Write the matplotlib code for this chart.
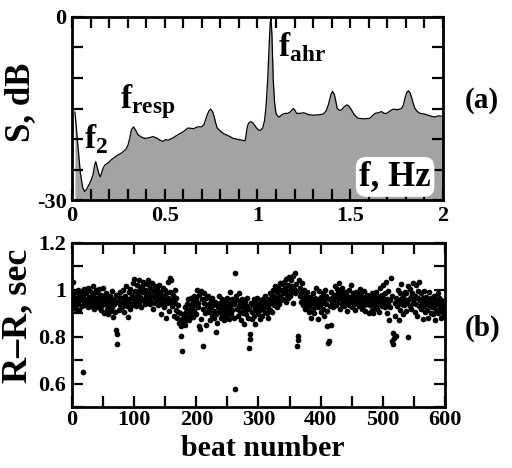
import matplotlib
matplotlib.use("Agg")
import matplotlib.pyplot as plt
import numpy as np

# ---- panel (a): power spectrum, dB ----
freq = [0.016, 0.03, 0.045, 0.058, 0.068, 0.078, 0.086, 0.1, 0.113, 0.122,
        0.128, 0.135, 0.145, 0.153, 0.165, 0.176, 0.195, 0.212, 0.23, 0.248,
        0.262, 0.275, 0.29, 0.302, 0.312, 0.32, 0.332, 0.344, 0.356, 0.375,
        0.392, 0.415, 0.437, 0.46, 0.475, 0.49, 0.505, 0.518, 0.545, 0.571,
        0.6, 0.625, 0.655, 0.679, 0.699, 0.712, 0.726, 0.738, 0.748, 0.758,
        0.766, 0.775, 0.783, 0.8, 0.816, 0.845, 0.87, 0.9, 0.933, 0.939,
        0.945, 0.952, 0.96, 0.968, 0.977, 0.99, 1.004, 1.016, 1.028, 1.038,
        1.046, 1.055, 1.063, 1.069, 1.073, 1.078, 1.085, 1.092, 1.1, 1.108,
        1.118, 1.132, 1.148, 1.162, 1.175, 1.185, 1.193, 1.2, 1.211, 1.23,
        1.247, 1.26, 1.274, 1.3, 1.337, 1.355, 1.37, 1.382, 1.395, 1.404,
        1.413, 1.421, 1.43, 1.442, 1.454, 1.468, 1.481, 1.492, 1.502, 1.51,
        1.517, 1.53, 1.543, 1.575, 1.606, 1.62, 1.633, 1.65, 1.669, 1.683,
        1.696, 1.715, 1.732, 1.755, 1.777, 1.787, 1.795, 1.805, 1.813, 1.822,
        1.831, 1.84, 1.849, 1.862, 1.876, 1.9, 1.921, 1.94, 1.957, 1.975,
        2.0]
spec_db = [-15.6, -20.5, -25.5, -28.0, -28.6, -28.3, -27.8, -27.0, -25.9, -24.3,
           -23.7, -24.5, -25.7, -26.2, -25.0, -24.3, -23.9, -23.4, -23.0, -22.6,
           -22.4, -22.1, -21.7, -21.0, -19.8, -18.5, -18.0, -18.6, -19.3, -19.7,
           -19.9, -19.8, -19.6, -19.9, -20.2, -20.4, -20.1, -20.2, -19.8, -19.3,
           -18.8, -18.2, -18.3, -18.0, -18.0, -17.6, -16.3, -15.4, -15.1, -15.5,
           -16.3, -17.4, -18.2, -18.7, -19.1, -19.5, -19.9, -20.1, -20.3, -19.3,
           -18.0, -17.4, -17.2, -17.2, -17.4, -18.0, -18.5, -18.6, -18.2, -17.0,
           -14.7, -10.3, -4.5, -0.8, -0.2, -3.0, -10.3, -14.0, -15.8, -16.2,
           -16.4, -16.0, -15.8, -15.8, -15.6, -15.3, -15.0, -15.2, -15.8, -15.8,
           -15.7, -15.8, -16.0, -16.1, -16.0, -15.9, -15.4, -14.4, -12.8, -12.2,
           -12.6, -13.6, -15.0, -15.3, -15.2, -14.7, -14.4, -14.6, -15.0, -15.4,
           -15.8, -16.3, -16.6, -16.7, -16.6, -16.2, -15.8, -15.7, -15.5, -15.8,
           -15.8, -15.4, -15.1, -15.2, -15.0, -14.4, -13.3, -12.4, -12.1, -12.4,
           -13.2, -14.2, -15.0, -15.5, -15.8, -15.9, -16.1, -16.3, -16.4, -16.2,
           -16.3]

# ---- panel (b): R-R intervals, ms (20 beats per row) ----
rr_ms = [
    985, 1035, 955, 930, 970, 945, 990, 920, 960, 1000, 940, 975, 915, 955, 990, 965, 930, 650, 980, 945,
    1005, 960, 935, 985, 950, 1010, 925, 970, 945, 995, 960, 930, 975, 1015, 950, 920, 985, 940, 965, 1000,
    955, 990, 925, 970, 1005, 945, 915, 980, 960, 935, 1010, 950, 900, 970, 940, 985, 920, 955, 895, 965,
    935, 975, 910, 950, 995, 925, 885, 960, 940, 905, 980, 830, 810, 770, 950, 915, 970, 935, 990, 945,
    925, 965, 1000, 940, 905, 975, 950, 1015, 930, 960, 885, 990, 945, 920, 1005, 965, 935, 980, 1030, 950,
    1045, 970, 995, 930, 1020, 960, 985, 1040, 945, 1005, 970, 925, 1015, 955, 990, 1035, 960, 940, 1000, 975,
    1025, 955, 985, 1040, 965, 940, 1010, 975, 1030, 950, 995, 920, 970, 1015, 945, 985, 960, 1005, 935, 975,
    1020, 955, 990, 895, 965, 940, 1010, 975, 925, 1000, 955, 880, 985, 945, 1035, 965, 910, 990, 1050, 950,
    1040, 930, 980, 960, 890, 1000, 945, 915, 965, 880, 935, 905, 860, 900, 870, 805, 845, 740, 880, 860,
    895, 850, 925, 870, 905, 940, 885, 960, 915, 870, 935, 900, 965, 925, 885, 950, 910, 975, 935, 895,
    960, 1000, 925, 945, 980, 845, 835, 995, 875, 960, 760, 920, 985, 945, 900, 965, 850, 930, 975, 910,
    940, 905, 870, 955, 925, 890, 965, 935, 880, 910, 950, 820, 895, 940, 860, 925, 975, 905, 945, 880,
    925, 960, 895, 940, 870, 915, 955, 885, 930, 965, 900, 945, 875, 920, 990, 935, 895, 960, 915, 945,
    880, 940, 576, 1070, 975, 920, 955, 890, 930, 985, 905, 945, 870, 925, 960, 900, 940, 855, 915, 950,
    895, 930, 965, 880, 920, 750, 790, 810, 945, 905, 875, 935, 960, 890, 920, 855, 945, 910, 965, 930,
    895, 940, 915, 875, 955, 930, 890, 960, 920, 945, 905, 975, 935, 900, 950, 925, 880, 960, 985, 915,
    945, 980, 905, 960, 1000, 935, 970, 1015, 950, 990, 925, 1010, 965, 940, 1030, 975, 1000, 955, 1025, 985,
    960, 1035, 995, 1010, 950, 1045, 980, 1020, 965, 1055, 1000, 975, 1040, 990, 1015, 945, 1060, 1005, 985, 1070,
    1025, 995, 760, 785, 805, 1040, 975, 1010, 950, 985, 1030, 960, 935, 1000, 965, 920, 980, 945, 990, 925,
    960, 935, 905, 970, 945, 880, 955, 920, 985, 940, 900, 965, 930, 1010, 950, 875, 925, 960, 995, 935,
    970, 905, 945, 985, 920, 955, 890, 1000, 940, 975, 845, 910, 772, 783, 960, 930, 990, 848, 945, 965,
    925, 980, 950, 1015, 935, 970, 1005, 945, 985, 1030, 960, 920, 995, 975, 940, 1010, 955, 985, 930, 965,
    990, 945, 975, 910, 960, 1000, 935, 970, 950, 1020, 925, 965, 985, 940, 975, 955, 915, 990, 960, 945,
    975, 930, 960, 1005, 945, 985, 920, 965, 950, 995, 935, 970, 910, 955, 980, 940, 965, 900, 950, 975,
    935, 960, 915, 985, 945, 900, 970, 930, 955, 990, 920, 950, 975, 940, 905, 965, 1010, 945, 980, 930,
    965, 1020, 950, 985, 925, 1035, 960, 900, 940, 995, 870, 955, 925, 1052, 975, 780, 770, 815, 795, 945,
    890, 965, 805, 930, 1000, 950, 870, 985, 915, 960, 1025, 940, 895, 975, 935, 990, 955, 910, 985, 945,
    1015, 800, 960, 930, 1005, 970, 920, 985, 945, 1030, 960, 905, 975, 1020, 940, 890, 965, 995, 930, 1035,
    955, 920, 985, 945, 875, 965, 930, 995, 905, 950, 970, 915, 880, 960, 935, 990, 945, 900, 965, 925,
    950, 895, 975, 930, 870, 960, 915, 945, 985, 900, 935, 965, 920, 880, 955, 910, 940, 890, 930, 905,
]

f_ticks = [0, 0.5, 1, 1.5, 2]
f_labels = ["0", "0.5", "1", "1.5", "2"]
rr_ticks = [0.6, 0.8, 1.0, 1.2]
rr_labels = ["0.6", "0.8", "1", "1.2"]

plt.rcParams["font.family"] = ["Liberation Serif", "DejaVu Serif"]
plt.rcParams["font.weight"] = "bold"
plt.rcParams["axes.unicode_minus"] = False
plt.rcParams["mathtext.fontset"] = "custom"
plt.rcParams["mathtext.bf"] = "Liberation Serif:bold"
plt.rcParams["mathtext.rm"] = "Liberation Serif:bold"

fig = plt.figure(figsize=(5.12, 4.68), dpi=100)
ax1 = fig.add_axes([0.1406, 0.5726, 0.7246, 0.3911])
ax2 = fig.add_axes([0.1406, 0.1303, 0.7285, 0.3505])

grey = "#a3a3a3"
ax1.fill_between(freq, spec_db, -30, color=grey, lw=0)
ax1.plot(freq, spec_db, color="black", lw=0.9)
ax1.set_xlim(0, 2)
ax1.set_ylim(-30, 0)

beats = np.arange(len(rr_ms))
ax2.plot(beats, np.array(rr_ms) / 1000.0, "o", color="black", ms=4.1, mew=0)
ax2.set_xlim(0, 600)
ax2.set_ylim(0.5, 1.2)

# ticks: all inward, on every side
x1 = np.round(np.arange(0, 2.01, 0.1), 2)
ax1.set_xticks(x1)
ax1.set_xticklabels([f_labels[f_ticks.index(v)] if v in f_ticks else "" for v in x1])
y1 = np.arange(-30, 1, 5)
ax1.set_yticks(y1)
ax1.set_yticklabels(["-30" if v == -30 else ("0" if v == 0 else "") for v in y1])

x2 = np.arange(0, 601, 50)
ax2.set_xticks(x2)
ax2.set_xticklabels([str(v) if v % 100 == 0 else "" for v in x2])
y2 = np.round(np.arange(0.5, 1.21, 0.1), 1)
ax2.set_yticks(y2)
ax2.set_yticklabels([rr_labels[rr_ticks.index(v)] if v in rr_ticks else "" for v in y2])

for ax in (ax1, ax2):
    ax.tick_params(direction="in", length=8, width=1.6, top=True, right=True,
                   labelsize=16, pad=4)
    for s in ax.spines.values():
        s.set_linewidth(2.0)
    for lab in ax.get_xticklabels() + ax.get_yticklabels():
        lab.set_fontweight("bold")
ax2.tick_params(axis="x", pad=2)

# labels
fig.text(0.040, 0.782, "S, dB", rotation=90, ha="center", va="center",
         fontsize=25, fontweight="bold")
fig.text(0.034, 0.325, "R\u2013R, sec", rotation=90, ha="center", va="center",
         fontsize=26, fontweight="bold")
fig.text(0.514, 0.026, "beat number", ha="center", va="baseline",
         fontsize=21.5, fontweight="bold")
fig.text(0.942, 0.786, "(a)", ha="center", va="center", fontsize=21, fontweight="bold")
fig.text(0.942, 0.299, "(b)", ha="center", va="center", fontsize=21, fontweight="bold")

ax1.text(0.065, -21.5, r"$\mathbf{f}_{\mathbf{2}}$", fontsize=24, ha="left", va="baseline")
ax1.text(0.26, -14.9, r"$\mathbf{f}_{\mathbf{resp}}$", fontsize=24, ha="left", va="baseline")
ax1.text(1.11, -6.5, r"$\mathbf{f}_{\mathbf{ahr}}$", fontsize=24, ha="left", va="baseline")
ax1.text(1.935, -27.6, "f, Hz", fontsize=25, fontweight="bold", ha="right", va="baseline",
         bbox=dict(boxstyle="round,pad=0.1,rounding_size=0.3", fc="white", ec="none"))

fig.savefig("out.png", dpi=100)
